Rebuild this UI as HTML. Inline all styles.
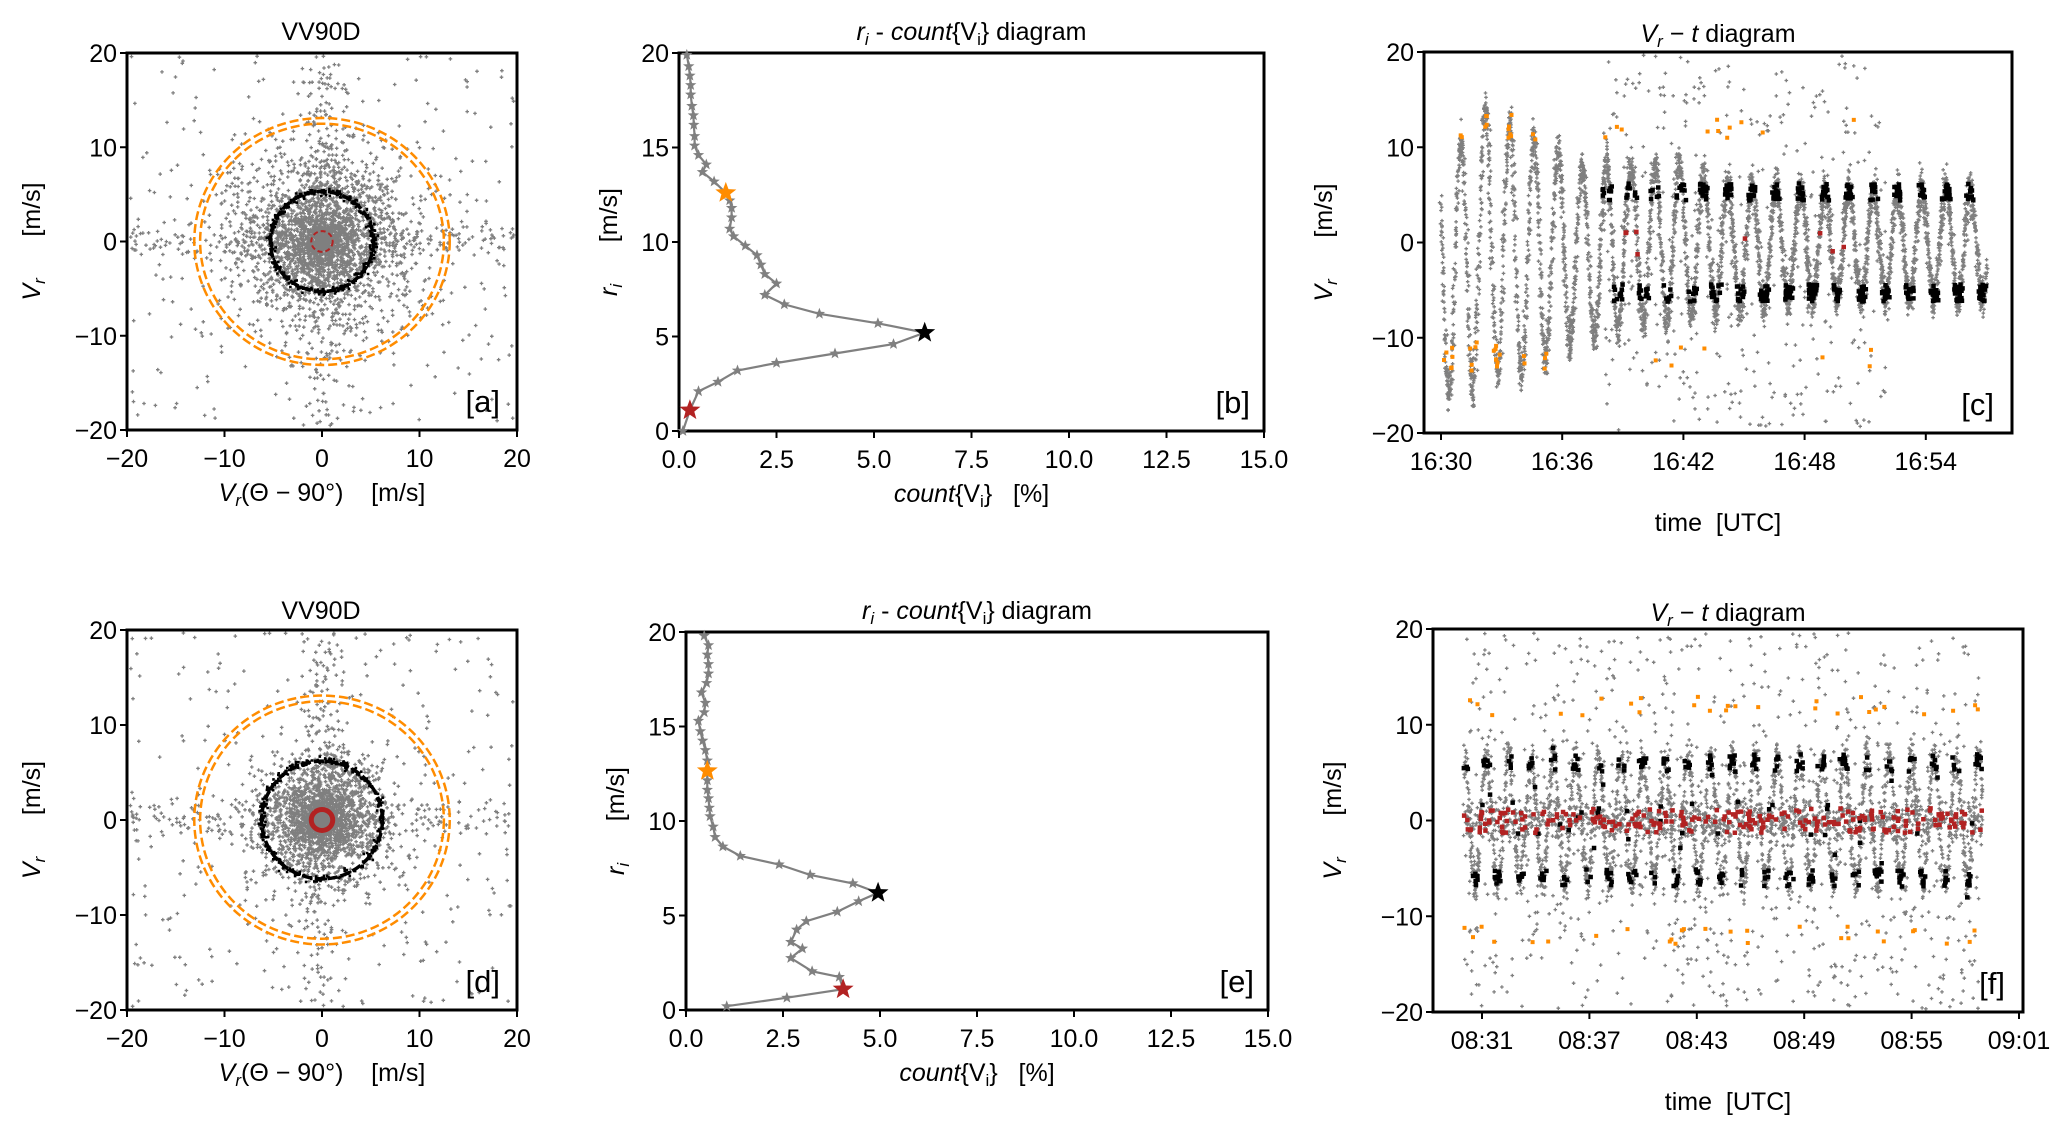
<!DOCTYPE html>
<html><head><meta charset="utf-8"><style>
html,body{margin:0;padding:0;background:#fff;}
svg{display:block;font-family:"Liberation Sans","DejaVu Sans",sans-serif;}
</style></head><body>
<svg id="fig" width="2067" height="1128" viewBox="0 0 2067 1128" xmlns="http://www.w3.org/2000/svg"></svg>
<script>
// ---------- data ----------
const profB_r = [0,1.1,2.1,2.6,3.2,3.6,4.1,4.6,5.2,5.7,6.2,6.7,7.2,7.8,8.3,8.8,9.3,9.8,10.3,10.7,11.3,11.8,12.2,12.6,13.2,13.7,14.1,14.6,15.1,15.6,16.2,16.7,17.2,17.8,18.3,18.8,19.3,19.9];
const profB_c = [0.1,0.28,0.5,1.0,1.5,2.5,4.0,5.5,6.3,5.1,3.6,2.7,2.2,2.5,2.2,2.1,2.0,1.7,1.4,1.3,1.35,1.35,1.3,1.2,0.9,0.6,0.7,0.5,0.4,0.4,0.38,0.37,0.33,0.3,0.3,0.28,0.25,0.2];
const profB_special = [[1,'#b22222'],[8,'#000000'],[23,'#ff8c00']];
const profE_r = [0.2,0.65,1.1,1.75,2.05,2.75,3.25,3.6,4.25,4.7,5.2,5.75,6.2,6.7,7.15,7.7,8.15,8.65,9.15,9.7,10.25,10.7,11.2,11.65,12.15,12.65,13.2,13.75,14.25,14.75,15.3,15.75,16.25,16.8,17.3,17.8,18.3,18.8,19.3,19.8];
const profE_c = [1.05,2.6,4.05,3.95,3.25,2.7,3.0,2.7,2.85,3.1,3.9,4.45,4.95,4.3,3.2,2.4,1.4,0.95,0.75,0.7,0.62,0.6,0.58,0.55,0.55,0.55,0.55,0.5,0.43,0.37,0.32,0.47,0.5,0.4,0.53,0.58,0.58,0.55,0.58,0.47];
const profE_special = [[2,'#b22222'],[12,'#000000'],[25,'#ff8c00']];
const ringsA = {red:1.1, black:5.3, orange1:12.5, orange2:13.1};
const ringsD = {red:1.1, black:6.2, orange1:12.5, orange2:13.1};
const cPeaks = [10.5,14,12.5,11,9.5,8,8.5,8,8,8,7,6.5,6,6,5.5,5.5,5.5,5,5.5,5.5,6,5.5,5];
const cTroughs = [-16,-13.5,-14.5,-13.5,-11,-10,-10,-8,-9,-8,-7.5,-7,-7,-6.5,-6,-6,-6,-6,-6,-6,-6,-6,-6];
const fPeaks = [6.5,6.5,7,6.5,7,6.5,6.5,7,6.5,6.5,7,6.5,7,6.5,6.5,7,6.5,6.5,7,6.5,7,6.5,6.5,7,6.5];
const fTroughs = [-6.5,-6.5,-7,-6.5,-7,-6.5,-6.5,-7,-6.5,-6.5,-7,-6.5,-7,-6.5,-6.5,-7,-6.5,-6.5,-7,-6.5,-7,-6.5,-6.5,-7,-6.5];
const axTicks = [-20,-10,0,10,20];
const profXTicks = [0,2.5,5,7.5,10,12.5,15];
const profYTicks = [0,5,10,15,20];
const cTimeTicks = ['16:30','16:36','16:42','16:48','16:54'];
const fTimeTicks = ['08:31','08:37','08:43','08:49','08:55','09:01'];

// ---------- helpers ----------
const NS='http://www.w3.org/2000/svg';
const svg=document.getElementById('fig');
function el(tag,attrs,parent){const e=document.createElementNS(NS,tag);for(const k in attrs)e.setAttribute(k,attrs[k]);(parent||svg).appendChild(e);return e;}
let seed=12345;function rnd(){seed=(seed*1103515245+12345)%2147483648;return seed/2147483648;}
function gauss(){let u=rnd()||1e-6,v=rnd();return Math.sqrt(-2*Math.log(u))*Math.cos(2*Math.PI*v);}
function tmin(s){const p=s.split(':');return +p[0]*60+ +p[1];}
const FS=25;

function makeAxes(name,L,R,T,B,x0,x1,y0,y1){
  const g=el('g',{});
  
  
  return {g,sx:v=>L+(v-x0)/(x1-x0)*(R-L),sy:v=>B-(v-y0)/(y1-y0)*(B-T),L,R,T,B};
}
function frame(ax){
  const r=el('rect',{x:ax.L,y:ax.T,width:ax.R-ax.L,height:ax.B-ax.T,fill:'none',stroke:'#000','stroke-width':3},ax.g);
  
  
}
function xtick(ax,v,label,by){
  const x=ax.sx(v);
  el('line',{x1:x,y1:ax.B,x2:x,y2:ax.B+7,stroke:'#000','stroke-width':2},ax.g);
  const t=el('text',{x:x,y:by,'font-size':FS,'text-anchor':'middle'},ax.g);t.textContent=label;
  
  
}
function ytick(ax,v,label){
  const y=ax.sy(v);
  el('line',{x1:ax.L-7,y1:y,x2:ax.L,y2:y,stroke:'#000','stroke-width':2},ax.g);
  const t=el('text',{x:ax.L-10,y:y+9,'font-size':FS,'text-anchor':'end'},ax.g);t.textContent=label;
  
  
}
function fmt(v){return v<0?'\u2212'+(-v):''+v;}
function txt(parent,x,y,html,size,anchor,name,rot){
  const t=el('text',{x:x,y:y,'font-size':size,'text-anchor':anchor||'middle'},parent);
  if(rot)t.setAttribute('transform','rotate(-90 '+x+' '+y+')');
  t.innerHTML=html;
  
  
  return t;
}
function dotsPath(ax,pts,color,s,name){
  let d='';for(const p of pts){const x=ax.sx(p[0]),y=ax.sy(p[1]);if(x<ax.L+2||x>ax.R-2||y<ax.T+2||y>ax.B-2)continue;d+='M'+(x-s/2).toFixed(1)+' '+(y-s/2).toFixed(1)+'h'+s+'v'+s+'h-'+s+'z';}
  const p=el('path',{d:d,fill:color},ax.g);
  
  
}
function crossPath(ax,pts,color,name){
  let d='';for(const p of pts){const x=ax.sx(p[0]),y=ax.sy(p[1]);if(x<ax.L+3||x>ax.R-3||y<ax.T+3||y>ax.B-3)continue;d+='M'+(x-1.8).toFixed(1)+' '+y.toFixed(1)+'h3.6M'+x.toFixed(1)+' '+(y-1.8).toFixed(1)+'v3.6';}
  const p=el('path',{d:d,stroke:color,'stroke-width':1.3,fill:'none'},ax.g);
  
  
}
function star(g,x,y,R,color){
  let pts=[];for(let i=0;i<10;i++){const r=i%2?R*0.42:R;const a=-Math.PI/2+i*Math.PI/5;pts.push((x+r*Math.cos(a)).toFixed(1)+','+(y+r*Math.sin(a)).toFixed(1));}
  return el('polygon',{points:pts.join(' '),fill:color},g);
}

// ---------- scatter panels (a, d) ----------
function scatterPanel(label,T,B,titleY,rings,tight,dense){
  const ax=makeAxes('scatter-panel-'+label,127,517,T,B,-20,20,-20,20);
  const gray=[],black=[];
  for(let i=0;i<dense;i++){
    let r=Math.abs(gauss())*(tight?3.2:5.0)+(rnd()<0.25?rnd()*6:0);
    const a=rnd()*2*Math.PI;gray.push([r*Math.cos(a),r*Math.sin(a)]);
  }
  for(let i=0;i<300;i++){gray.push([(rnd()*2-1)*20,(rnd()*2-1)*20]);}
  for(let i=0;i<180;i++){gray.push([gauss()*1.2,(rnd()*2-1)*20]);gray.push([(rnd()*2-1)*20,gauss()*1.0]);}
  for(let i=0;i<320;i++){const a=rnd()*2*Math.PI,r=rings.black+gauss()*0.2;black.push([r*Math.cos(a),r*Math.sin(a)]);}
  crossPath(ax,gray,'#7f7f7f','gray-points');
  dotsPath(ax,black,'#000',2.6,'black-ring-points');
  const cx=ax.sx(0),cy=ax.sy(0),kx=(ax.R-ax.L)/40,ky=(ax.B-ax.T)/40;
  function ell(r,color,w,dash,name){const e=el('ellipse',{cx:cx,cy:cy,rx:r*kx,ry:r*ky,fill:'none',stroke:color,'stroke-width':w,'stroke-dasharray':dash},ax.g);}
  ell(rings.black,'#000',3.5,'10 3','black-circle');
  ell(rings.orange1,'#ff8c00',2.5,'9 4','orange-circle-inner');
  ell(rings.orange2,'#ff8c00',2.5,'9 4','orange-circle-outer');
  if(tight) ell(rings.red,'#b22222',5,'','red-circle'); else ell(rings.red,'#b22222',2,'5 3','red-circle');
  frame(ax);
  const xb=B+37;
  axTicks.forEach(v=>xtick(ax,v,fmt(v),xb));
  axTicks.forEach(v=>ytick(ax,v,fmt(v)));
  txt(ax.g,321,titleY,'VV90D',FS,'middle','panel-title');
  txt(ax.g,322,B+71,'<tspan font-style="italic">V</tspan><tspan font-style="italic" font-size="17" dy="5">r</tspan><tspan dy="-5">(\u0398 \u2212 90°)&#160;&#160;&#160;&#160;[m/s]</tspan>',FS,'middle','x-axis-title');
  txt(ax.g,40,(T+B)/2,'<tspan font-style="italic">V</tspan><tspan font-style="italic" font-size="17" dy="5">r</tspan><tspan dy="-5">&#160;&#160;&#160;&#160;&#160;&#160;[m/s]</tspan>',FS,'middle','y-axis-title',true);
  txt(ax.g,500,B-18,'['+label+']',31,'end','panel-label');
}

// ---------- profile panels (b, e) ----------
function profilePanel(label,L,R,T,B,titleY,rs,cs,special){
  const ax=makeAxes('profile-panel-'+label,L,R,T,B,0,15,0,20);
  frame(ax);
  let d='';rs.forEach((r,i)=>{d+=(i?'L':'M')+ax.sx(cs[i]).toFixed(1)+' '+ax.sy(r).toFixed(1);});
  const line=el('path',{d:d,fill:'none',stroke:'#808080','stroke-width':2.2},ax.g);
  
  
  rs.forEach((r,i)=>{const s=star(ax.g,ax.sx(cs[i]),ax.sy(r),6,'#808080');
    
    });
  special.forEach(sp=>{const s=star(ax.g,ax.sx(cs[sp[0]]),ax.sy(rs[sp[0]]),11,sp[1]);
    
    });
  profXTicks.forEach(v=>xtick(ax,v,v.toFixed(1),B+37));
  profYTicks.forEach(v=>ytick(ax,v,''+v));
  const cx=(L+R)/2;
  txt(ax.g,cx,titleY,'<tspan font-style="italic">r</tspan><tspan font-style="italic" font-size="17" dy="5">i</tspan><tspan dy="-5"> - </tspan><tspan font-style="italic">count</tspan>{V<tspan font-size="17" dy="5">i</tspan><tspan dy="-5">} diagram</tspan>',FS,'middle','panel-title');
  txt(ax.g,cx,B+71,'<tspan font-style="italic">count</tspan>{V<tspan font-size="17" dy="5">i</tspan><tspan dy="-5">}&#160;&#160;&#160;[%]</tspan>',FS,'middle','x-axis-title');
  txt(ax.g,L-62,(T+B)/2,'<tspan font-style="italic">r</tspan><tspan font-style="italic" font-size="17" dy="5">i</tspan><tspan dy="-5">&#160;&#160;&#160;&#160;&#160;&#160;[m/s]</tspan>',FS,'middle','y-axis-title',true);
  txt(ax.g,R-14,B-18,'['+label+']',31,'end','panel-label');
}

// ---------- time series panels (c, f) ----------
function timePanel(label,L,R,T,B,titleY,tick0,pxPerMin,tStart,tEnd,period,firstPeak,peaks,troughs,opts){
  const tL=tmin(tick0)-(opts.tick0x-L)/pxPerMin, tR=tL+(R-L)/pxPerMin;
  const ax=makeAxes('time-panel-'+label,L,R,T,B,tL,tR,-20,20);
  const gray=[],black=[],orange=[],red=[];
  const ts=tmin(tStart),te=tmin(tEnd),fp=tmin(firstPeak);
  for(let t=ts;t<te;t+=opts.step){
    const ph=(t-fp)/period;let k=Math.floor(ph+0.5);const f=ph-Math.floor(ph);
    const ki=Math.max(0,Math.min(peaks.length-1,k));
    const p=peaks[ki],q=troughs[ki];
    const c=(p+q)/2,A=(p-q)/2;
    let v=c+A*Math.cos(2*Math.PI*f)+gauss()*opts.noise;
    if(opts.band && rnd()<0.3){v=gauss()*1.0;}
    const tj=t+gauss()*0.04;
    gray.push([tj,v]);
    const av=Math.abs(v);
    if(t>tmin(opts.blackFrom)&&Math.abs(av-opts.blackR)<0.9&&rnd()<opts.blackP)black.push([tj,v]);
    else if(av<1.3&&t>tmin(opts.redFrom)&&t<tmin(opts.redTo)&&rnd()<opts.redP)red.push([tj,v]);
    else if(t<tmin(opts.orangeTo)&&Math.abs(av-12)<1.5&&rnd()<0.12)orange.push([tj,v]);
    else if(opts.band&&rnd()<0.015)black.push([tj,v]);
  }
  for(let i=0;i<opts.outN;i++){const t=tmin(opts.outFrom)+rnd()*(tmin(opts.outTo)-tmin(opts.outFrom));gray.push([t,(rnd()*2-1)*20]);if(rnd()<0.05)orange.push([t,(rnd()<0.5?1:-1)*(11+rnd()*2)]);}
  crossPath(ax,gray,'#7f7f7f','gray-points');
  dotsPath(ax,black,'#000',4.5,'black-points');
  dotsPath(ax,red,'#b22222',4.5,'red-points');
  dotsPath(ax,orange,'#ff8c00',4,'orange-points');
  frame(ax);
  opts.ticks.forEach(s=>xtick(ax,tmin(s),s,B+37));
  axTicks.forEach(v=>ytick(ax,v,fmt(v)));
  const cx=(L+R)/2;
  txt(ax.g,cx,titleY,'<tspan font-style="italic">V</tspan><tspan font-style="italic" font-size="17" dy="5">r</tspan><tspan dy="-5"> \u2212 </tspan><tspan font-style="italic">t</tspan> diagram',FS,'middle','panel-title');
  txt(ax.g,cx,B+98,'time&#160;&#160;[UTC]',FS,'middle','x-axis-title');
  txt(ax.g,L-92,(T+B)/2,'<tspan font-style="italic">V</tspan><tspan font-style="italic" font-size="17" dy="5">r</tspan><tspan dy="-5">&#160;&#160;&#160;&#160;&#160;&#160;[m/s]</tspan>',FS,'middle','y-axis-title',true);
  txt(ax.g,R-18,B-18,'['+label+']',31,'end','panel-label');
}

scatterPanel('a',53,430,40,ringsA,false,2800);
scatterPanel('d',630,1010,619,ringsD,true,3400);
profilePanel('b',679,1264,53,431,40,profB_r,profB_c,profB_special);
profilePanel('e',686,1268,632,1010,619,profE_r,profE_c,profE_special);
timePanel('c',1424,2012,52,433,42,'16:30',20.2,'16:30','16:57',1.2,'16:31',cPeaks,cTroughs,
  {tick0x:1441,step:0.005,noise:0.9,band:false,blackFrom:'16:38',blackR:5.3,blackP:0.45,redFrom:'16:39',redTo:'16:51',redP:0.05,orangeTo:'16:36',outN:380,outFrom:'16:38',outTo:'16:52',ticks:cTimeTicks});
timePanel('f',1433,2023,629,1012,621,'08:31',17.9,'08:30','08:59',1.25,'08:30',fPeaks,fTroughs,
  {tick0x:1482,step:0.0075,noise:0.8,band:true,blackFrom:'08:29',blackR:6,blackP:0.3,redFrom:'08:29',redTo:'09:00',redP:0.18,orangeTo:'08:00',outN:900,outFrom:'08:30',outTo:'08:59',ticks:fTimeTicks});
</script>
</body></html>
